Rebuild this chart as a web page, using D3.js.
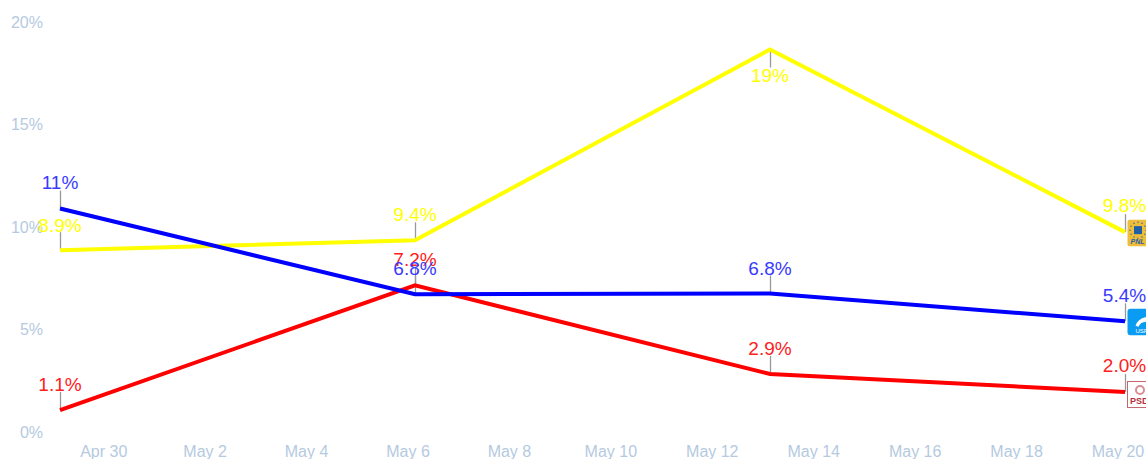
<!DOCTYPE html>
<html><head><meta charset="utf-8">
<script src="https://cdn.jsdelivr.net/npm/d3@7"></script>
<style>html,body{margin:0;padding:0;background:#fff;overflow:hidden}svg{display:block}text{font-family:"Liberation Sans",Arial,sans-serif}</style>
</head><body><svg id="c" width="1146" height="459"></svg>
<script>
const dates = ["2024-04-29","2024-05-06","2024-05-13","2024-05-20"];
const yellowValues = [8.87, 9.35, 18.66, 9.75];
const yellowLabels = ["8.9%","9.4%","19%","9.8%"];
const blueValues = [10.9, 6.72, 6.76, 5.4];
const blueLabels = ["11%","6.8%","6.8%","5.4%"];
const redValues = [1.07, 7.15, 2.83, 1.95];
const redLabels = ["1.1%","7.2%","2.9%","2.0%"];
const yTicks = [0,5,10,15,20];
const xTickDates = ["2024-04-30","2024-05-02","2024-05-04","2024-05-06","2024-05-08","2024-05-10","2024-05-12","2024-05-14","2024-05-16","2024-05-18","2024-05-20"];
const xTickLabels = ["Apr 30","May 2","May 4","May 6","May 8","May 10","May 12","May 14","May 16","May 18","May 20"];

const parse = d3.utcParse("%Y-%m-%d");
const svg = d3.select("#c");
const x = d3.scaleUtc().domain([parse(dates[0]), parse(dates[3])]).range([60,1125]);
const y = d3.scaleLinear().domain([0,20]).range([432,22]);
const tickCol = "#b5cadf";

svg.append("g").selectAll("text").data(yTicks).join("text")
  .attr("x",43).attr("y",d=>y(d)+5.5).attr("text-anchor","end")
  .attr("font-size",16).attr("fill",tickCol).text(d=>d+"%");
svg.append("g").selectAll("text").data(xTickDates).join("text")
  .attr("x",d=>x(parse(d))-7).attr("y",457).attr("text-anchor","middle")
  .attr("font-size",16).attr("fill",tickCol).text((d,i)=>xTickLabels[i]);

const series = [
 {c:"#ffff00",t:"#ffff00",v:yellowValues,l:yellowLabels,up:[true,true,false,true]},
 {c:"#ff0000",t:"#ff2020",v:redValues,l:redLabels,up:[true,true,true,true]},
 {c:"#0000ff",t:"#3a3aff",v:blueValues,l:blueLabels,up:[true,true,true,true]}
];
const line = d3.line().x((d,i)=>x(parse(dates[i]))).y(d=>y(d));
series.forEach(s=>{
  svg.append("g").selectAll("line").data(s.v).join("line")
    .attr("x1",(d,i)=>x(parse(dates[i]))+.5).attr("x2",(d,i)=>x(parse(dates[i]))+.5)
    .attr("y1",d=>y(d)).attr("y2",(d,i)=>s.up[i]?y(d)-18:y(d)+18)
    .attr("stroke","#999").attr("stroke-width",1.3);
});
series.forEach(s=>{
  svg.append("path").datum(s.v).attr("d",line).attr("fill","none")
    .attr("stroke",s.c).attr("stroke-width",4);
});
series.forEach(s=>{
  svg.append("g").selectAll("text").data(s.l).join("text")
    .attr("x",(d,i)=>x(parse(dates[i]))+(i==3?-.5:0))
    .attr("y",(d,i)=>s.up[i]?y(parseFloat(d))-(i==3?19.5:18):y(parseFloat(d))+39.5)
    .attr("text-anchor","middle").attr("font-size",19).attr("fill",s.t)
    .text(d=>d);
});
// party logos, clipped at the right edge like the reference
const endX = x(parse(dates[3]));
const yl = svg.append("g").attr("transform",`translate(${endX+2.5},${y(yellowValues[3])-12.5})`);
yl.append("rect").attr("width",30).attr("height",26.5).attr("rx",2).attr("fill","#eebd3a");
d3.range(0,360,30).forEach(a=>yl.append("circle")
  .attr("cx",10.5+8*Math.cos(a*Math.PI/180)).attr("cy",10.5+8*Math.sin(a*Math.PI/180))
  .attr("r",.7).attr("fill","#1f5fa8"));
yl.append("rect").attr("x",6.5).attr("y",6.5).attr("width",8).attr("height",8).attr("fill","#1f5fa8");
yl.append("text").attr("x",3).attr("y",24.5).attr("font-size",7).attr("font-weight","bold").attr("font-style","italic").attr("fill","#1f5fa8").text("PNL");
const bl = svg.append("g").attr("transform",`translate(${endX+2.5},${y(blueValues[3])-12.5})`);
bl.append("rect").attr("width",30).attr("height",26.5).attr("rx",3).attr("fill","#0a9bf2");
bl.append("path").attr("d","M8 17 Q10 10 19 8 L19 13 Q13 13 11 18 Z").attr("fill","#fff");
bl.append("text").attr("x",8).attr("y",24).attr("font-size",6).attr("fill","#fff").text("USR");
const rl = svg.append("g").attr("transform",`translate(${endX+2},${y(redValues[3])-11})`);
rl.append("rect").attr("x",.5).attr("y",.5).attr("width",30).attr("height",26).attr("fill","#fff").attr("stroke","#c4666d");
rl.append("circle").attr("cx",13).attr("cy",9).attr("r",4).attr("fill","none").attr("stroke","#d98d92").attr("stroke-width",2);
rl.append("text").attr("x",3).attr("y",23).attr("font-size",9).attr("font-weight","bold").attr("fill","#b5303a").text("PSD");
</script></body></html>
